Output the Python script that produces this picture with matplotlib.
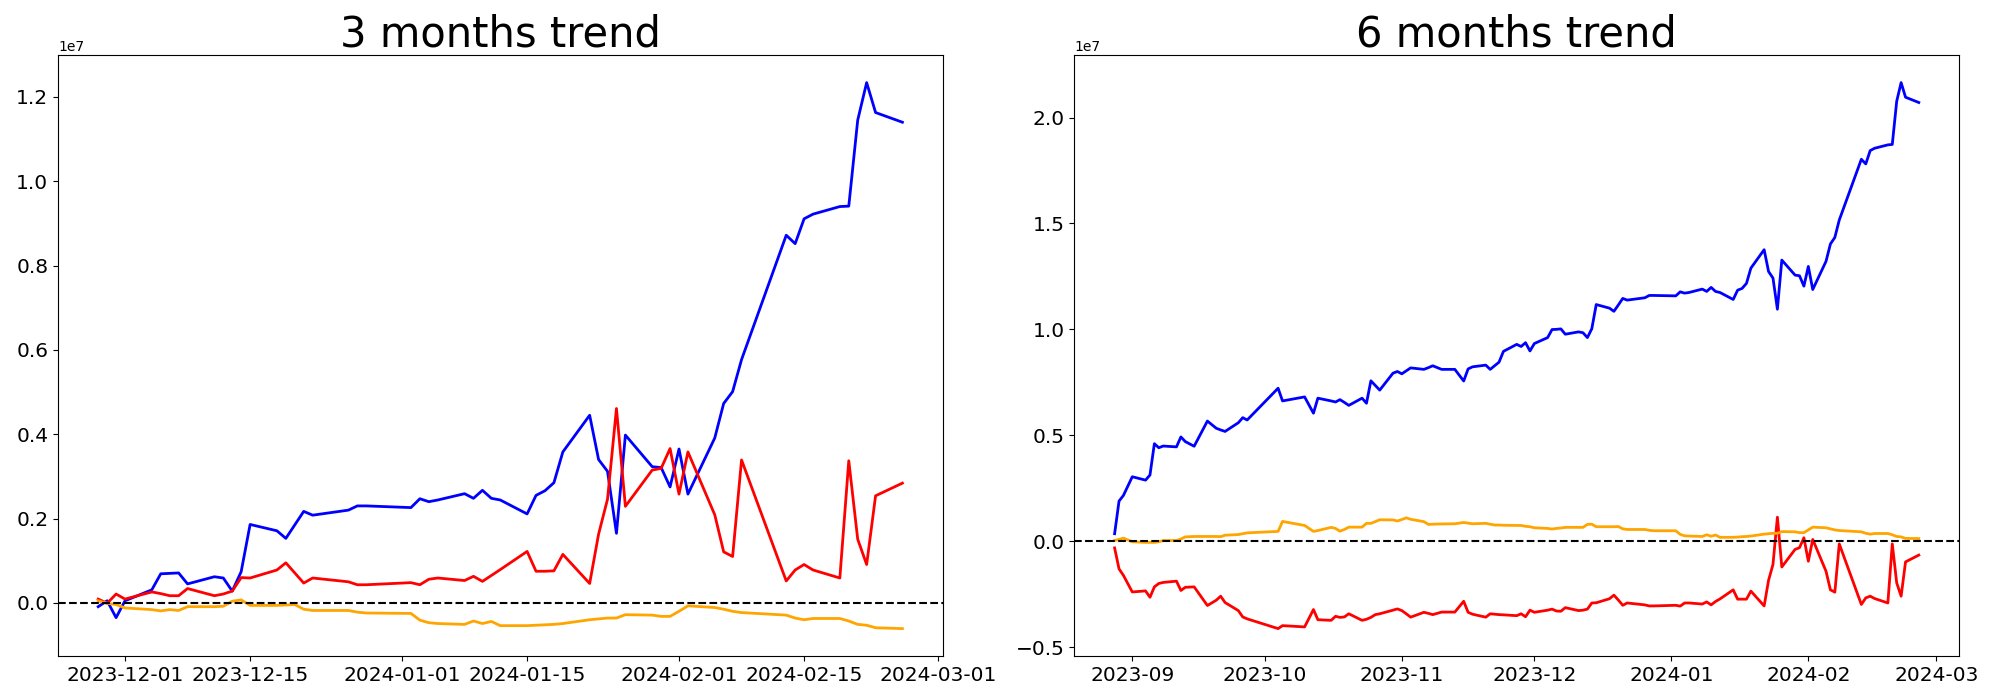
import pandas as pd
import matplotlib
matplotlib.use("Agg")
import matplotlib.pyplot as plt

ESCALA = 1e6  # valores abaixo em milhoes

# ---- 3 meses ----
datas_3m = [
    "2023-11-28", "2023-11-29", "2023-11-30", "2023-12-01", "2023-12-04",
    "2023-12-05", "2023-12-06", "2023-12-07", "2023-12-08", "2023-12-11",
    "2023-12-12", "2023-12-13", "2023-12-14", "2023-12-15", "2023-12-18",
    "2023-12-19", "2023-12-20", "2023-12-21", "2023-12-22", "2023-12-26",
    "2023-12-27", "2023-12-28", "2024-01-02", "2024-01-03", "2024-01-04",
    "2024-01-05", "2024-01-08", "2024-01-09", "2024-01-10", "2024-01-11",
    "2024-01-12", "2024-01-15", "2024-01-16", "2024-01-17", "2024-01-18",
    "2024-01-19", "2024-01-22", "2024-01-23", "2024-01-24", "2024-01-25",
    "2024-01-26", "2024-01-29", "2024-01-30", "2024-01-31", "2024-02-01",
    "2024-02-02", "2024-02-05", "2024-02-06", "2024-02-07", "2024-02-08",
    "2024-02-13", "2024-02-14", "2024-02-15", "2024-02-16", "2024-02-19",
    "2024-02-20", "2024-02-21", "2024-02-22", "2024-02-23", "2024-02-26",
]
azul_3m = [
    -0.09, 0.05, -0.35, 0.05, 0.31, 0.69, 0.70, 0.71, 0.45, 0.62,
    0.59, 0.28, 0.74, 1.86, 1.71, 1.53, 1.85, 2.17, 2.08, 2.20,
    2.30, 2.30, 2.26, 2.47, 2.40, 2.44, 2.59, 2.48, 2.67, 2.48,
    2.44, 2.11, 2.55, 2.66, 2.85, 3.58, 4.45, 3.40, 3.12, 1.65,
    3.98, 3.23, 3.21, 2.75, 3.65, 2.58, 3.91, 4.73, 5.01, 5.77,
    8.72, 8.52, 9.11, 9.22, 9.40, 9.41, 11.45, 12.34, 11.63, 11.40,
]
vermelho_3m = [
    0.09, -0.01, 0.21, 0.09, 0.26, 0.22, 0.17, 0.17, 0.34, 0.17,
    0.21, 0.28, 0.60, 0.59, 0.78, 0.95, 0.71, 0.47, 0.59, 0.50,
    0.43, 0.43, 0.48, 0.43, 0.56, 0.59, 0.53, 0.63, 0.51, 0.65,
    0.79, 1.22, 0.75, 0.75, 0.76, 1.15, 0.46, 1.63, 2.46, 4.61,
    2.29, 3.15, 3.19, 3.66, 2.58, 3.58, 2.09, 1.21, 1.10, 3.39,
    0.52, 0.78, 0.91, 0.78, 0.59, 3.37, 1.51, 0.91, 2.54, 2.84,
]
laranja_3m = [
    0.05, -0.01, -0.04, -0.12, -0.16, -0.19, -0.16, -0.18, -0.09, -0.09,
    -0.08, 0.04, 0.07, -0.06, -0.06, -0.05, -0.04, -0.15, -0.18, -0.18,
    -0.22, -0.24, -0.25, -0.41, -0.47, -0.49, -0.51, -0.43, -0.49, -0.44,
    -0.54, -0.54, -0.53, -0.52, -0.51, -0.49, -0.40, -0.38, -0.36, -0.36,
    -0.28, -0.29, -0.32, -0.32, -0.20, -0.07, -0.11, -0.15, -0.20, -0.23,
    -0.29, -0.36, -0.40, -0.37, -0.37, -0.43, -0.51, -0.53, -0.59, -0.61,
]

# ---- 6 meses ----
datas_6m = [
    "2023-08-28", "2023-08-29", "2023-08-30", "2023-09-01", "2023-09-04",
    "2023-09-05", "2023-09-06", "2023-09-07", "2023-09-08", "2023-09-11",
    "2023-09-12", "2023-09-13", "2023-09-15", "2023-09-18", "2023-09-20",
    "2023-09-21", "2023-09-22", "2023-09-25", "2023-09-26", "2023-09-27",
    "2023-10-04", "2023-10-05", "2023-10-10", "2023-10-12", "2023-10-13",
    "2023-10-16", "2023-10-17", "2023-10-18", "2023-10-19", "2023-10-20",
    "2023-10-23", "2023-10-24", "2023-10-25", "2023-10-26", "2023-10-27",
    "2023-10-30", "2023-10-31", "2023-11-01", "2023-11-02", "2023-11-03",
    "2023-11-06", "2023-11-07", "2023-11-08", "2023-11-10", "2023-11-13",
    "2023-11-15", "2023-11-16", "2023-11-17", "2023-11-20", "2023-11-21",
    "2023-11-22", "2023-11-23", "2023-11-24", "2023-11-27",
] + datas_3m
azul_6m = [
    0.35, 1.89, 2.16, 3.04, 2.88, 3.12, 4.60, 4.41, 4.49, 4.45,
    4.92, 4.70, 4.48, 5.67, 5.33, 5.25, 5.18, 5.59, 5.83, 5.72,
    7.22, 6.62, 6.81, 6.04, 6.75, 6.62, 6.57, 6.68, 6.55, 6.41,
    6.75, 6.51, 7.57, 7.35, 7.13, 7.93, 8.01, 7.90, 8.04, 8.18,
    8.11, 8.19, 8.28, 8.11, 8.11, 7.56, 8.13, 8.23, 8.31, 8.11,
    8.28, 8.45, 8.96, 9.29,
    9.19, 9.37, 8.98, 9.33, 9.61, 9.99, 10.00, 10.02, 9.77, 9.88,
    9.84, 9.61, 10.03, 11.17, 11.00, 10.85, 11.15, 11.46, 11.38, 11.49,
    11.60, 11.60, 11.58, 11.77, 11.71, 11.74, 11.90, 11.79, 11.98, 11.79,
    11.74, 11.41, 11.85, 11.93, 12.17, 12.89, 13.76, 12.73, 12.42, 10.95,
    13.27, 12.56, 12.53, 12.04, 12.97, 11.88, 13.21, 14.03, 14.34, 15.16,
    18.03, 17.81, 18.44, 18.55, 18.71, 18.73, 20.77, 21.65, 20.96, 20.71,
]
vermelho_6m = [
    -0.32, -1.31, -1.62, -2.40, -2.35, -2.65, -2.16, -2.00, -1.95, -1.89,
    -2.33, -2.18, -2.16, -3.04, -2.79, -2.60, -2.90, -3.28, -3.58, -3.67,
    -4.13, -3.99, -4.05, -3.23, -3.71, -3.74, -3.55, -3.60, -3.58, -3.43,
    -3.74, -3.69, -3.60, -3.47, -3.43, -3.26, -3.20, -3.28, -3.43, -3.59,
    -3.36, -3.41, -3.47, -3.35, -3.35, -2.84, -3.36, -3.45, -3.59, -3.43,
    -3.45, -3.47, -3.48, -3.52,
    -3.43, -3.57, -3.26, -3.36, -3.26, -3.21, -3.30, -3.31, -3.14, -3.28,
    -3.26, -3.21, -2.92, -2.91, -2.72, -2.55, -2.78, -3.03, -2.92, -3.01,
    -3.06, -3.06, -3.03, -3.07, -2.92, -2.92, -2.97, -2.87, -3.01, -2.85,
    -2.73, -2.30, -2.74, -2.74, -2.74, -2.36, -3.06, -1.85, -1.10, 1.13,
    -1.22, -0.39, -0.31, 0.16, -0.95, 0.08, -1.42, -2.30, -2.41, -0.13,
    -2.99, -2.68, -2.60, -2.71, -2.92, -0.13, -1.97, -2.60, -0.98, -0.66,
]
laranja_6m = [
    0.03, 0.08, 0.14, -0.03, -0.06, -0.06, -0.06, -0.03, 0.03, 0.03,
    0.10, 0.20, 0.22, 0.22, 0.22, 0.21, 0.28, 0.31, 0.35, 0.39,
    0.46, 0.93, 0.74, 0.46, 0.50, 0.65, 0.60, 0.47, 0.55, 0.66,
    0.66, 0.84, 0.84, 0.92, 1.01, 1.00, 0.95, 1.02, 1.10, 1.03,
    0.92, 0.79, 0.80, 0.81, 0.82, 0.88, 0.85, 0.82, 0.84, 0.80,
    0.76, 0.76, 0.75, 0.74,
    0.74, 0.70, 0.68, 0.63, 0.60, 0.57, 0.60, 0.62, 0.65, 0.65,
    0.65, 0.79, 0.80, 0.68, 0.68, 0.68, 0.69, 0.58, 0.55, 0.55,
    0.51, 0.49, 0.49, 0.32, 0.25, 0.24, 0.22, 0.30, 0.23, 0.29,
    0.18, 0.18, 0.19, 0.21, 0.22, 0.24, 0.33, 0.35, 0.37, 0.37,
    0.45, 0.44, 0.40, 0.40, 0.53, 0.66, 0.63, 0.58, 0.53, 0.50,
    0.44, 0.37, 0.33, 0.36, 0.36, 0.30, 0.22, 0.20, 0.13, 0.12,
]


def desenhar(ax, datas, azul, vermelho, laranja, titulo):
    x = pd.to_datetime(datas)
    ax.plot(x, [v * ESCALA for v in azul], color="blue", linewidth=2)
    ax.plot(x, [v * ESCALA for v in vermelho], color="red", linewidth=2)
    ax.plot(x, [v * ESCALA for v in laranja], color="orange", linewidth=2)
    ax.axhline(0, color="black", linestyle="--", linewidth=1.5)
    ax.set_title(titulo, fontsize=30)
    ax.tick_params(labelsize=14.5)


def main():
    fig, (ax1, ax2) = plt.subplots(1, 2, figsize=(20, 7), dpi=100)
    desenhar(ax1, datas_3m, azul_3m, vermelho_3m, laranja_3m, "3 months trend")
    desenhar(ax2, datas_6m, azul_6m, vermelho_6m, laranja_6m, "6 months trend")
    fig.subplots_adjust(left=0.029, right=0.9795, bottom=0.063, top=0.921,
                        wspace=0.149)
    fig.savefig("out.png")


if __name__ == "__main__":
    main()
